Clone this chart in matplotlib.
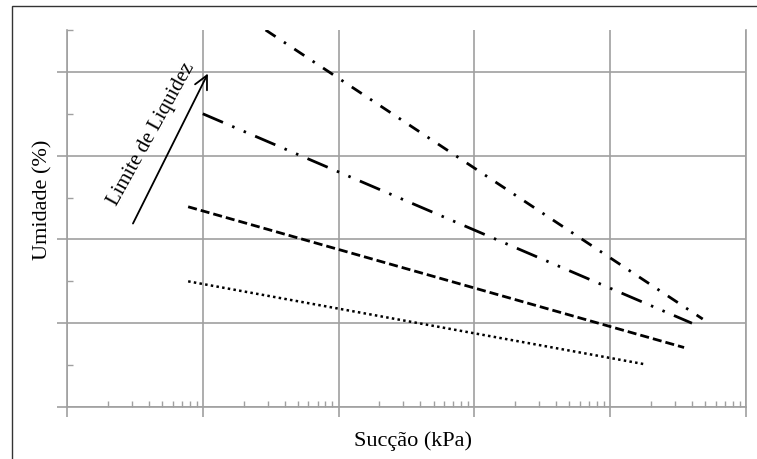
import numpy as np
import matplotlib
matplotlib.use('Agg')
import matplotlib.pyplot as plt
from matplotlib.patches import Rectangle
from matplotlib.ticker import LogLocator, MultipleLocator, NullFormatter

plt.rcParams['font.family'] = ['Liberation Serif', 'DejaVu Serif']

# curves (Succao kPa, Umidade %)
x_dot = [7.8, 18000]
y_dot = [15.0, 5.1]
x_dash = [7.8, 35000]
y_dash = [23.9, 7.1]
x_dashdotdot = [10, 40000]
y_dashdotdot = [35.0, 10.0]
x_dashdot = [29, 48000]
y_dashdot = [45.0, 10.5]

arrow_tail = (3.06, 21.9)
arrow_head = (10.9, 39.8)

grey = '#a0a0a0'

fig = plt.figure(figsize=(7.57, 4.59), dpi=100)
ax = fig.add_axes([67/757, 1 - 407/459, (746-67)/757, (407-30)/459])

lw = 2.0
ax.plot(x_dot, y_dot, color='black', lw=1.8, linestyle=(0, (1, 1.3)))
ax.plot(x_dash, y_dash, color='black', lw=lw, linestyle=(0, (3.25, 1.45)))
ax.plot(x_dashdotdot, y_dashdotdot, color='black', lw=lw,
        linestyle=(0, (7.9, 3.6, 0.9, 3.6, 0.9, 3.6)))
ax.plot(x_dashdot, y_dashdot, color='black', lw=lw,
        linestyle=(0, (4.3, 3.6, 0.9, 3.6)))

ax.annotate('', xy=arrow_head, xytext=arrow_tail,
            arrowprops=dict(arrowstyle='->', lw=1.3, color='black',
                            mutation_scale=24, shrinkA=0, shrinkB=0))
ax.text(4.16, 32.6, 'Limite de Liquidez', fontsize=15, rotation=61,
        ha='center', va='center', rotation_mode='anchor')

ax.set_xscale('log')
ax.set_xlim(1, 1e5)
ax.set_ylim(0, 45)
ax.xaxis.set_major_locator(LogLocator(base=10, numticks=10))
ax.xaxis.set_minor_locator(LogLocator(base=10, subs=np.arange(2, 10), numticks=20))
ax.xaxis.set_major_formatter(NullFormatter())
ax.xaxis.set_minor_formatter(NullFormatter())
ax.yaxis.set_major_locator(MultipleLocator(10))
ax.yaxis.set_minor_locator(MultipleLocator(5))
ax.yaxis.set_major_formatter(NullFormatter())

ax.grid(True, which='major', color=grey, lw=1.2)
ax.tick_params(which='major', direction='out', length=7, width=1.2, color=grey)
ax.tick_params(which='minor', direction='in', length=4, width=1.0, color=grey)
for s in ['left', 'bottom', 'right']:
    ax.spines[s].set_color(grey)
    ax.spines[s].set_linewidth(1.2)
ax.spines['top'].set_visible(False)

ax.set_xlabel('Sucção (kPa)', fontsize=16)
ax.set_ylabel('Umidade (%)', fontsize=16)
ax.xaxis.set_label_coords(0.51, -0.064)
ax.yaxis.set_label_coords(-0.022, 0.55)

fig.patches.append(Rectangle((12/757, -0.1), 1.0, 1 - 6/459 + 0.1,
                             transform=fig.transFigure, fill=False,
                             edgecolor='#333333', lw=1.0))

fig.savefig('out.png', dpi=100)
